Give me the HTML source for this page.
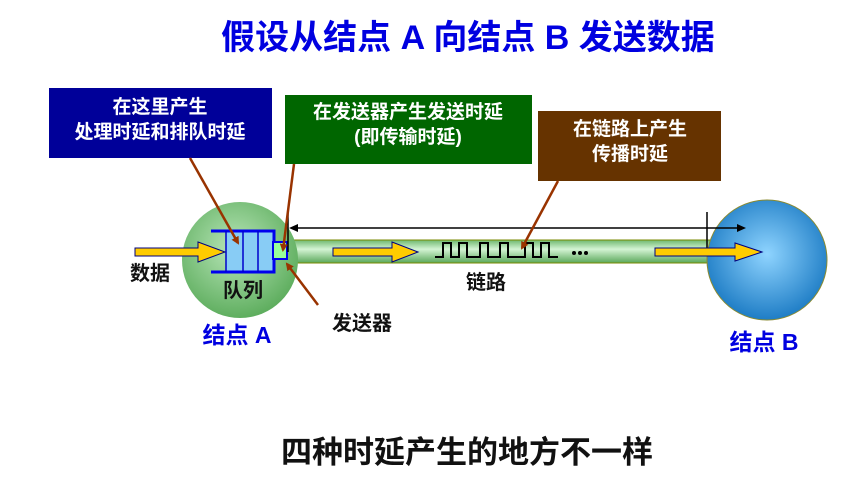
<!DOCTYPE html>
<html><head><meta charset="utf-8"><style>
html,body{margin:0;padding:0;background:#fff;}
svg{display:block;}
text{font-family:"Liberation Sans","Noto Sans CJK SC",sans-serif;font-weight:bold;}
</style></head><body>
<svg width="854" height="492" viewBox="0 0 854 492" xmlns="http://www.w3.org/2000/svg">
<defs>
<radialGradient id="ga" cx="0.45" cy="0.4" r="0.6"><stop offset="0" stop-color="#b8e6b8"/><stop offset="1" stop-color="#5fae5f"/></radialGradient>
<radialGradient id="gb" cx="0.5" cy="0.45" r="0.6"><stop offset="0" stop-color="#8fd4ff"/><stop offset="1" stop-color="#1475c0"/></radialGradient>
<linearGradient id="gp" x1="0" y1="0" x2="0" y2="1"><stop offset="0" stop-color="#6fb86f"/><stop offset="0.4" stop-color="#d4f4d4"/><stop offset="1" stop-color="#5aa85a"/></linearGradient>
<marker id="ah" markerWidth="8" markerHeight="8" refX="6" refY="4" orient="auto" markerUnits="userSpaceOnUse"><path d="M0,0 L8,4 L0,8 Z" fill="#993300"/></marker>
</defs>
<text x="468" y="49" font-size="34" fill="#0000e0" text-anchor="middle">假设从结点 A 向结点 B 发送数据</text>

<rect x="49" y="88" width="223" height="70" fill="#000099"/>
<text x="160" y="113" font-size="19" fill="#fff" text-anchor="middle">在这里产生</text>
<text x="160" y="138" font-size="19" fill="#fff" text-anchor="middle">处理时延和排队时延</text>
<rect x="285" y="95" width="247" height="69" fill="#006600"/>
<text x="408" y="118" font-size="19" fill="#fff" text-anchor="middle">在发送器产生发送时延</text>
<text x="408" y="143" font-size="19" fill="#fff" text-anchor="middle">(即传输时延)</text>
<rect x="538" y="111" width="183" height="70" fill="#663300"/>
<text x="630" y="135" font-size="19" fill="#fff" text-anchor="middle">在链路上产生</text>
<text x="630" y="160" font-size="19" fill="#fff" text-anchor="middle">传播时延</text>

<rect x="285" y="240" width="430" height="23" fill="url(#gp)" stroke="#7a8a00" stroke-width="1"/>
<circle cx="240" cy="260" r="58" fill="url(#ga)"/>
<circle cx="767" cy="260" r="60" fill="url(#gb)" stroke="#8a8a30" stroke-width="1"/>

<rect x="226" y="231" width="48" height="41" fill="#88ccf5"/>
<path d="M211 231H274V272H211" fill="none" stroke="#0000ee" stroke-width="3"/>
<line x1="226" y1="231" x2="226" y2="272" stroke="#0000cc" stroke-width="1.5"/>
<line x1="243" y1="231" x2="243" y2="272" stroke="#0000cc" stroke-width="1.5"/>
<line x1="258" y1="231" x2="258" y2="272" stroke="#0000cc" stroke-width="1.5"/>
<rect x="273" y="242" width="14" height="17" fill="#99ff99" stroke="#0000ee" stroke-width="2"/>

<line x1="288" y1="212" x2="288" y2="252" stroke="#000" stroke-width="1.5"/>
<line x1="707" y1="212" x2="707" y2="252" stroke="#000" stroke-width="1.5"/>
<line x1="292" y1="228" x2="740" y2="228" stroke="#000" stroke-width="1.5"/>
<polygon points="289,228 298,224 298,232" fill="#000"/>
<polygon points="746,228 737,224 737,232" fill="#000"/>

<polygon points="135,248 198,248 198,242 225,252 198,262 198,256 135,256" fill="#ffcc00" stroke="#000080" stroke-width="1"/>
<polygon points="333,248 392,248 392,242 418,252 392,262 392,256 333,256" fill="#ffcc00" stroke="#000080" stroke-width="1"/>
<polygon points="655,248 735,248 735,243 762,252 735,261 735,256 655,256" fill="#ffcc00" stroke="#000080" stroke-width="1"/>

<polyline points="435,257 443,257 443,243 451,243 451,257 459,257 459,243 467,243 467,257 480,257 480,243 488,243 488,257 500,257 500,243 508,243 508,257 525,257 525,243 533,243 533,257 541,257 541,243 549,243 549,257 558,257" fill="none" stroke="#000" stroke-width="2"/>
<circle cx="574" cy="253" r="2" fill="#000"/><circle cx="580" cy="253" r="2" fill="#000"/><circle cx="586" cy="253" r="2" fill="#000"/>

<g stroke="#993300" stroke-width="2.5">
<line x1="190" y1="158" x2="238" y2="243" marker-end="url(#ah)"/>
<line x1="294" y1="164" x2="283" y2="250" marker-end="url(#ah)"/>
<line x1="318" y1="305" x2="287" y2="264" marker-end="url(#ah)"/>
<line x1="558" y1="181" x2="522" y2="248" marker-end="url(#ah)"/>
</g>

<text x="150" y="280" font-size="20" fill="#111" text-anchor="middle">数据</text>
<text x="243" y="297" font-size="20" fill="#111" text-anchor="middle">队列</text>
<text x="237" y="343" font-size="23" fill="#0000e0" text-anchor="middle">结点 A</text>
<text x="362" y="330" font-size="20" fill="#111" text-anchor="middle">发送器</text>
<text x="486" y="289" font-size="20" fill="#111" text-anchor="middle">链路</text>
<text x="764" y="350" font-size="23" fill="#0000e0" text-anchor="middle">结点 B</text>
<text x="467" y="463" font-size="31" fill="#111" text-anchor="middle">四种时延产生的地方不一样</text>
</svg>
</body></html>
